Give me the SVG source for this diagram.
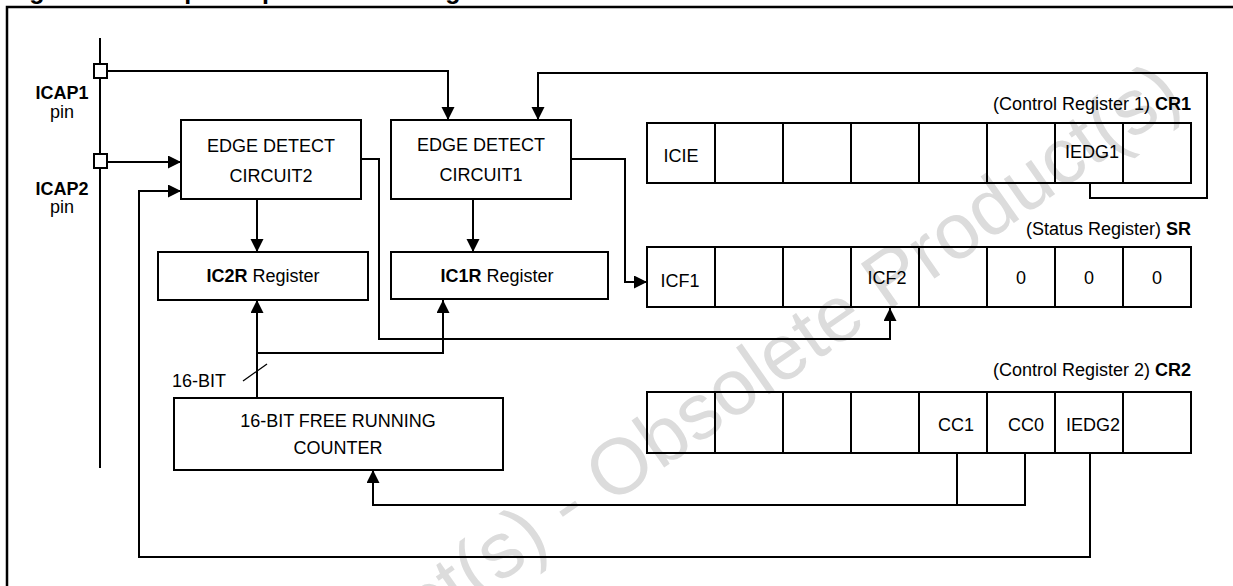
<svg xmlns="http://www.w3.org/2000/svg" width="1233" height="586" viewBox="0 0 1233 586">
<defs>
<style>
text{font-family:"Liberation Sans",Arial,sans-serif;font-size:18px;fill:#000}
.b{font-weight:bold}
.c{text-anchor:middle}
.r{text-anchor:end}
.box{fill:none;stroke:#000;stroke-width:2}
.jn{fill:#fff;stroke:#000;stroke-width:2}
.ln{fill:none;stroke:#000;stroke-width:2}
.wm{font-size:79px;fill:#dcdcdc}
</style>
<marker id="ah" markerWidth="14" markerHeight="14" refX="13" refY="6.5" orient="auto" markerUnits="userSpaceOnUse"><path d="M0,0 L13,6.5 L0,13 z" fill="#000"/></marker>
</defs>
<rect width="1233" height="586" fill="#fff"/>
<text class="wm c" x="581" y="526" transform="rotate(-35 581 526)">Obsolete Product(s) - Obsolete Product(s)</text>
<text class="b" style="font-size:25px" y="-1"><tspan x="7">Figure 41.</tspan><tspan x="162">Input Capture Block Diagram</tspan></text>
<path class="ln" d="M7,586 V7 H1233" style="stroke-width:2.5"/>

<g id="pins">
<path class="ln" d="M100,38 V468"/>
<rect class="jn" x="94" y="64" width="13" height="14"/>
<rect class="jn" x="94" y="154" width="13" height="14"/>
<text class="b c" x="62" y="99">ICAP1</text>
<text class="c" x="62" y="118">pin</text>
<text class="b c" x="62" y="195">ICAP2</text>
<text class="c" x="62" y="213">pin</text>
</g>

<g id="connectors">
<path class="ln" d="M107,71 H448 V120" marker-end="url(#ah)"/>
<path class="ln" d="M107,162 H181" marker-end="url(#ah)"/>
<path class="ln" d="M1090,453 V557 H139 V191 H181" marker-end="url(#ah)"/>
<path class="ln" d="M1090,183 V198 H1207 V73 H538 V120" marker-end="url(#ah)"/>
<path class="ln" d="M257,199 V252" marker-end="url(#ah)"/>
<path class="ln" d="M473,199 V252" marker-end="url(#ah)"/>
<path class="ln" d="M571,159 H625 V282 H647" marker-end="url(#ah)"/>
<path class="ln" d="M361,159 H379 V339 H890 V308" marker-end="url(#ah)"/>
<path class="ln" d="M257,398 V300" marker-end="url(#ah)"/>
<path class="ln" d="M257,353 H443 V300" marker-end="url(#ah)"/>
<path class="ln" d="M957,453 V505 H373 V470" marker-end="url(#ah)"/>
<path class="ln" d="M1025,453 V505 H956"/>
<path d="M243,381 L267,364" stroke="#000" stroke-width="1.3"/>
<text x="172" y="387">16-BIT</text>
</g>

<g id="edge2">
<rect class="box" x="181" y="120" width="180" height="79"/>
<text class="c" x="271" y="152">EDGE DETECT</text>
<text class="c" x="271" y="182">CIRCUIT2</text>
</g>
<g id="edge1">
<rect class="box" x="391" y="120" width="180" height="79"/>
<text class="c" x="481" y="151">EDGE DETECT</text>
<text class="c" x="481" y="181">CIRCUIT1</text>
</g>
<g id="ic2r">
<rect class="box" x="158" y="252" width="210" height="48"/>
<text class="c" x="263" y="282"><tspan class="b">IC2R</tspan> Register</text>
</g>
<g id="ic1r">
<rect class="box" x="391" y="252" width="217" height="47"/>
<text class="c" x="497" y="282"><tspan class="b">IC1R</tspan> Register</text>
</g>
<g id="counter">
<rect class="box" x="174" y="398" width="329" height="72"/>
<text class="c" x="338" y="427">16-BIT FREE RUNNING</text>
<text class="c" x="338" y="454">COUNTER</text>
</g>

<g id="cr1">
<text class="r" x="1191" y="110">(Control Register 1) <tspan class="b">CR1</tspan></text>
<rect class="box" x="647" y="123" width="544" height="60"/>
<path class="ln" d="M715,123 V183 M783,123 V183 M851,123 V183 M919,123 V183 M987,123 V183 M1055,123 V183 M1123,123 V183"/>
<text class="c" x="681" y="162">ICIE</text>
<text class="c" x="1092" y="158">IEDG1</text>
</g>
<g id="sr">
<text class="r" x="1191" y="235">(Status Register) <tspan class="b">SR</tspan></text>
<rect class="box" x="647" y="247" width="544" height="60"/>
<path class="ln" d="M715,247 V307 M783,247 V307 M851,247 V307 M919,247 V307 M987,247 V307 M1055,247 V307 M1123,247 V307"/>
<text class="c" x="680" y="287">ICF1</text>
<text class="c" x="887" y="284">ICF2</text>
<text class="c" x="1021" y="284">0</text>
<text class="c" x="1089" y="284">0</text>
<text class="c" x="1157" y="284">0</text>
</g>
<g id="cr2">
<text class="r" x="1191" y="376">(Control Register 2) <tspan class="b">CR2</tspan></text>
<rect class="box" x="647" y="392" width="544" height="61"/>
<path class="ln" d="M715,392 V453 M783,392 V453 M851,392 V453 M919,392 V453 M987,392 V453 M1055,392 V453 M1123,392 V453"/>
<text class="c" x="956" y="431">CC1</text>
<text class="c" x="1026" y="431">CC0</text>
<text class="c" x="1093" y="431">IEDG2</text>
</g>
</svg>
